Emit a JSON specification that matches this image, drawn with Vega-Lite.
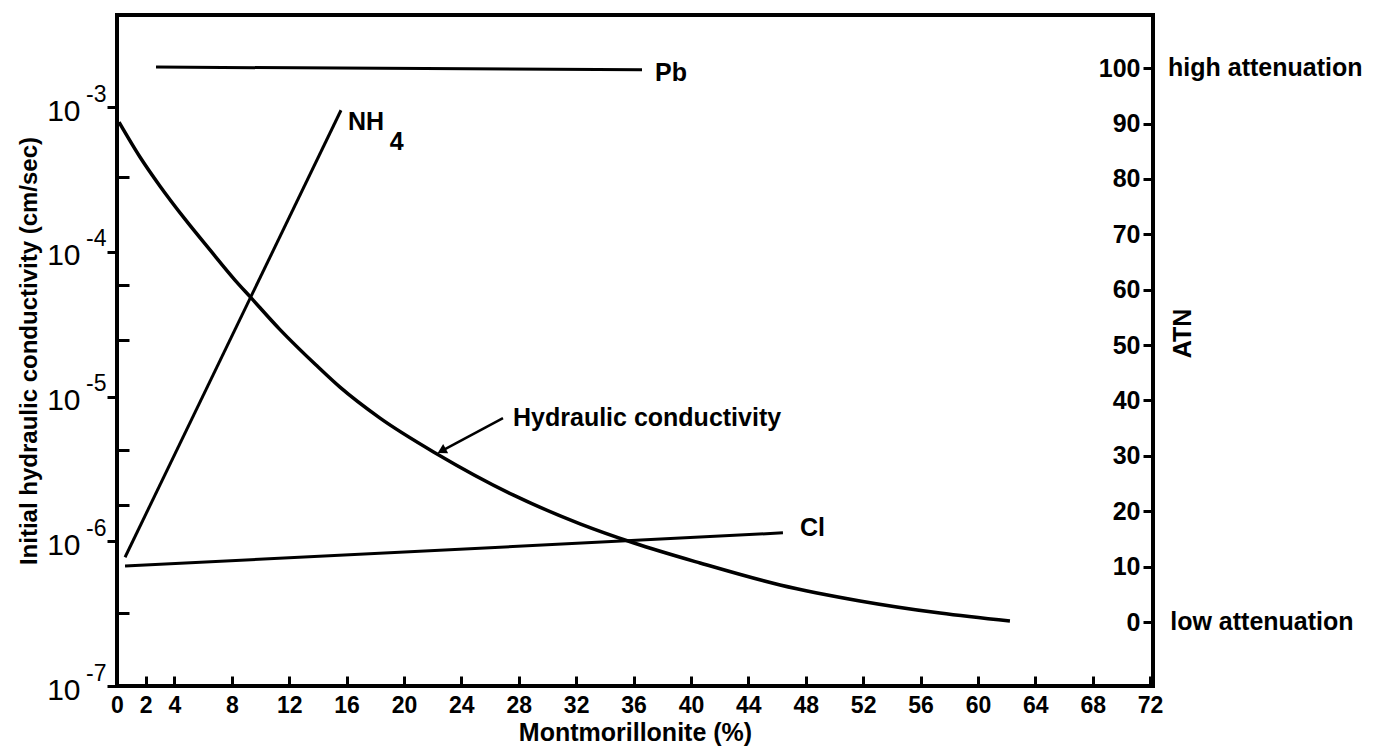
{
  "$schema": "https://vega.github.io/schema/vega-lite/v6.json",
  "width": 1036,
  "height": 671,
  "autosize": {"type": "none"},
  "padding": {"left": 117, "top": 15, "right": 230, "bottom": 62},
  "background": "white",
  "config": {
    "view": {"stroke": "black", "strokeWidth": 4},
    "font": "Liberation Sans",
    "axis": {
      "domain": false,
      "grid": false,
      "labelFont": "Liberation Sans",
      "titleFont": "Liberation Sans",
      "labelFontWeight": "bold",
      "labelColor": "black",
      "titleColor": "black",
      "tickColor": "black",
      "tickWidth": 3,
      "labelFontSize": 25,
      "titleFontSize": 25,
      "titleFontWeight": "bold"
    }
  },
  "datasets": {
    "hc": [
      {"pct": 0.14, "k": 7.87e-4},
      {"pct": 1.60, "k": 4.52e-4},
      {"pct": 3.00, "k": 2.84e-4},
      {"pct": 4.74, "k": 1.68e-4},
      {"pct": 6.48, "k": 1.03e-4},
      {"pct": 8.22, "k": 6.38e-5},
      {"pct": 9.27, "k": 4.9e-5},
      {"pct": 11.36, "k": 2.9e-5},
      {"pct": 13.87, "k": 1.65e-5},
      {"pct": 15.54, "k": 1.16e-5},
      {"pct": 18.33, "k": 7.09e-6},
      {"pct": 22.30, "k": 4.01e-6},
      {"pct": 27.60, "k": 2.09e-6},
      {"pct": 32.27, "k": 1.32e-6},
      {"pct": 36.03, "k": 9.73e-7},
      {"pct": 40.63, "k": 7.08e-7},
      {"pct": 46.21, "k": 4.99e-7},
      {"pct": 51.78, "k": 3.87e-7},
      {"pct": 57.36, "k": 3.19e-7},
      {"pct": 62.23, "k": 2.81e-7}
    ],
    "ions": [
      {"series": "Pb", "pct": 2.72, "atn": 100.2},
      {"series": "Pb", "pct": 36.59, "atn": 99.7},
      {"series": "NH4", "pct": 0.56, "atn": 11.7},
      {"series": "NH4", "pct": 15.61, "atn": 92.4},
      {"series": "Cl", "pct": 0.56, "atn": 10.1},
      {"series": "Cl", "pct": 46.41, "atn": 16.1}
    ],
    "atnLabels": [
      {"t": "Pb", "pct": 37.5, "atn": 99.1},
      {"t": "NH", "pct": 16.1, "atn": 90.3},
      {"t": "4", "pct": 19.0, "atn": 86.6},
      {"t": "Cl", "pct": 47.6, "atn": 17.0},
      {"t": "high attenuation", "pct": 73.25, "atn": 100},
      {"t": "low attenuation", "pct": 73.4, "atn": 0}
    ],
    "hcLabels": [
      {"t": "Hydraulic conductivity", "pct": 27.6, "k": 7.09e-6}
    ],
    "arrow": [
      {"pct": 26.9, "k": 7.09e-6, "pct2": 22.6, "k2": 4.2e-6}
    ],
    "arrowhead": [
      {"pct": 22.72, "k": 4.26e-6}
    ]
  },
  "encoding": {
    "x": {
      "field": "pct",
      "type": "quantitative",
      "scale": {"domain": [0, 72.2], "nice": false, "zero": false},
      "axis": {
        "orient": "bottom",
        "values": [0, 2, 4, 8, 12, 16, 20, 24, 28, 32, 36, 40, 44, 48, 52, 56, 60, 64, 68, 72],
        "format": "d",
        "tickSize": -10,
        "labelPadding": 18,
        "labelFlush": false,
        "labelOverlap": false,
        "labelFontSize": 23,
        "title": "Montmorillonite (%)",
        "titleFontSize": 25,
        "titlePadding": 3
      }
    }
  },
  "layer": [
    {
      "data": {"name": "hc"},
      "mark": {"type": "line", "color": "black", "strokeWidth": 3.5, "interpolate": "monotone"},
      "encoding": {
        "y": {
          "field": "k",
          "type": "quantitative",
          "scale": {"type": "log", "domain": [1e-7, 0.004325], "nice": false},
          "axis": {
            "orient": "left",
            "values": [1e-7, 3.2e-7, 1e-6, 1.78e-6, 4.3e-6, 1e-5, 2.45e-5, 5.9e-5, 1e-4, 3.3e-4, 1e-3],
            "labelExpr": "abs(log(datum.value)/LN10 - round(log(datum.value)/LN10)) < 0.01 ? '10' : ''",
            "tickSize": {"condition": {"test": "abs(log(datum.value)/LN10 - round(log(datum.value)/LN10)) < 0.01", "value": 10}, "value": -12},
            "labelPadding": 27,
            "labelOffset": 4,
            "labelFontSize": 30,
            "labelFontWeight": "normal",
            "labelOverlap": false,
            "labelFlush": false,
            "title": "Initial hydraulic conductivity (cm/sec)",
            "titleFontSize": 24,
            "titlePadding": 5
          }
        }
      }
    },
    {
      "data": {"name": "ions"},
      "mark": {"type": "line", "color": "black", "strokeWidth": 3},
      "encoding": {
        "detail": {"field": "series"},
        "y": {
          "field": "atn",
          "type": "quantitative",
          "scale": {"domain": [-11.55, 109.6], "nice": false, "zero": false},
          "axis": {
            "orient": "right",
            "values": [0, 10, 20, 30, 40, 50, 60, 70, 80, 90, 100],
            "tickSize": -10,
            "labelPadding": -3,
            "labelAlign": "right",
            "labelBaseline": "middle",
            "labelOverlap": false,
            "labelFlush": false,
            "title": "ATN",
            "titleAngle": 270,
            "titleBaseline": "top",
            "titlePadding": 16,
            "titleY": 318
          }
        }
      }
    },
    {
      "data": {"name": "atnLabels"},
      "mark": {"type": "text", "align": "left", "baseline": "middle", "fontSize": 25, "fontWeight": "bold", "font": "Liberation Sans", "color": "black"},
      "encoding": {
        "text": {"field": "t"},
        "y": {"field": "atn", "type": "quantitative", "scale": {"domain": [-11.55, 109.6], "nice": false, "zero": false}, "axis": null}
      }
    },
    {
      "data": {"name": "hcLabels"},
      "mark": {"type": "text", "align": "left", "baseline": "middle", "fontSize": 25, "fontWeight": "bold", "font": "Liberation Sans", "color": "black"},
      "encoding": {
        "text": {"field": "t"},
        "y": {
          "field": "k",
          "type": "quantitative",
          "scale": {"type": "log", "domain": [1e-7, 0.004325], "nice": false},
          "axis": {
            "orient": "left",
            "values": [1e-7, 1e-6, 1e-5, 1e-4, 1e-3],
            "labelExpr": "'-' + format(-round(log(datum.value)/LN10), 'd')",
            "ticks": false,
            "domain": false,
            "grid": false,
            "labelPadding": 11,
            "labelOffset": -13,
            "labelFontSize": 23,
            "labelFontWeight": "normal",
            "labelOverlap": false,
            "labelFlush": false,
            "title": null
          }
        }
      }
    },
    {
      "data": {"name": "arrow"},
      "mark": {"type": "rule", "color": "black", "strokeWidth": 2.5},
      "encoding": {
        "x2": {"field": "pct2"},
        "y": {"field": "k", "type": "quantitative", "scale": {"type": "log", "domain": [1e-7, 0.004325], "nice": false}, "axis": null},
        "y2": {"field": "k2"}
      }
    },
    {
      "data": {"name": "arrowhead"},
      "mark": {"type": "point", "shape": "triangle", "filled": true, "color": "black", "opacity": 1, "size": 110, "angle": 241.6},
      "encoding": {
        "y": {"field": "k", "type": "quantitative", "scale": {"type": "log", "domain": [1e-7, 0.004325], "nice": false}, "axis": null}
      }
    }
  ],
  "resolve": {"scale": {"y": "independent"}, "axis": {"y": "independent"}}
}
